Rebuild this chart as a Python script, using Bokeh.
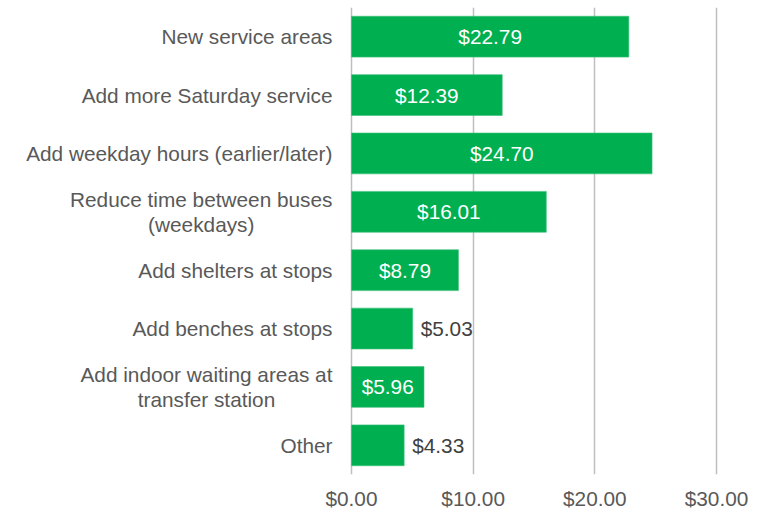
from bokeh.plotting import figure
from bokeh.models import ColumnDataSource, FactorRange, Range1d, FixedTicker, NumeralTickFormatter
from bokeh.core.properties import value
from bokeh.embed import file_html
from bokeh.resources import INLINE

categories = [
    "New service areas",
    "Add more Saturday service",
    "Add weekday hours (earlier/later)",
    "Reduce time between buses\n(weekdays)",
    "Add shelters at stops",
    "Add benches at stops",
    "Add indoor waiting areas at\ntransfer station",
    "Other",
]
amounts = [22.79, 12.39, 24.70, 16.01, 8.79, 5.03, 5.96, 4.33]
label_inside = [True, True, True, True, True, False, True, False]
x_ticks = [0, 10, 20, 30]

FONT = "Liberation Sans"
FS = "20.8px"
GREEN = "#00B050"

labels = ["${:.2f}".format(v) for v in amounts]
src = ColumnDataSource(dict(cat=categories, amt=amounts, lab=labels,
                            zero=[0] * len(categories)))
ins = [i for i, f in enumerate(label_inside) if f]
outs = [i for i, f in enumerate(label_inside) if not f]
src_in = ColumnDataSource(dict(cat=[categories[i] for i in ins],
                               x=[amounts[i] / 2 for i in ins],
                               lab=[labels[i] for i in ins]))
src_out = ColumnDataSource(dict(cat=[categories[i] for i in outs],
                                x=[amounts[i] for i in outs],
                                lab=[labels[i] for i in outs]))

p = figure(width=764, height=512, output_backend="svg", toolbar_location=None,
           y_range=FactorRange(*reversed(categories)),
           x_range=Range1d(-28.84, 33.94))
p.min_border_left = 0
p.min_border_right = 0
p.min_border_top = 7
p.min_border_bottom = 36
p.outline_line_color = None
p.background_fill_color = "white"

p.hbar(y="cat", right="amt", left=0, height=0.7, source=src,
       fill_color=GREEN, line_color="#3cc07a", line_width=0.6)

# category labels (right-anchored block, centred lines)
p.text(x="zero", y="cat", text="cat", source=src, anchor="center_right",
       text_align="center", text_baseline="middle", text_color="#595959",
       text_font=value(FONT), text_font_size=FS, text_line_height=1.08,
       x_offset=-19)

p.text(x="x", y="cat", text="lab", source=src_in, text_align="center",
       text_baseline="middle", text_color="white", text_font=value(FONT),
       text_font_size=FS)
p.text(x="x", y="cat", text="lab", source=src_out, text_align="left",
       text_baseline="middle", text_color="#404040", text_font=value(FONT),
       text_font_size=FS, x_offset=8)

p.xaxis.ticker = FixedTicker(ticks=x_ticks)
p.xaxis.formatter = NumeralTickFormatter(format="$0.00")
p.xaxis.axis_line_color = None
p.xaxis.major_tick_line_color = None
p.xaxis.minor_tick_line_color = None
p.xaxis.major_tick_out = 0
p.xaxis.major_label_standoff = 12
p.xaxis.major_label_text_font = FONT
p.xaxis.major_label_text_font_size = FS
p.xaxis.major_label_text_color = "#595959"

p.yaxis.visible = False

p.xgrid.ticker = FixedTicker(ticks=x_ticks)
p.xgrid.grid_line_color = "#BFBFBF"
p.xgrid.grid_line_width = 1.5
p.ygrid.grid_line_color = None

open("out.html", "w").write(file_html(p, INLINE))
